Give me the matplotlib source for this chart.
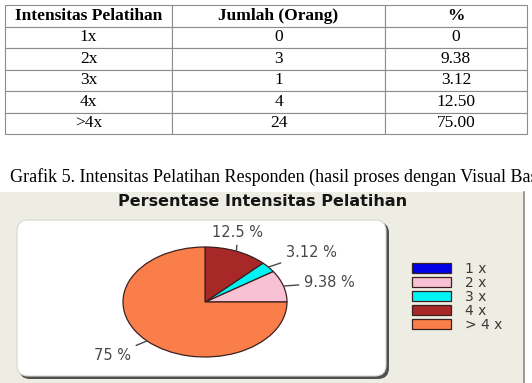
import numpy as np
import matplotlib
matplotlib.use("Agg")
from matplotlib import pyplot as plt
from matplotlib.patches import Rectangle, FancyBboxPatch

# table data
col_labels = ["Intensitas Pelatihan", "Jumlah (Orang)", "%"]
kategori = ["1x", "2x", "3x", "4x", ">4x"]
jumlah = [0, 3, 1, 4, 24]
persen = ["0", "9.38", "3.12", "12.50", "75.00"]

# pie chart data
legend_names = ["1 x", "2 x", "3 x", "4 x", "> 4 x"]
pie_labels = ["", "9.38 %", "3.12 %", "12.5 %", "75 %"]
colors = ["#0000e8", "#f9c2d4", "#00f4f4", "#a82828", "#fa7e4a"]
# label text positions (unit circle coords), layout only
label_pos = [None, (1.52, 0.35), (1.30, 0.90), (0.40, 1.27), (-1.13, -0.97)]

W, H = 532, 383
fig = plt.figure(figsize=(W / 100, H / 100), dpi=100)
fig.patch.set_facecolor("white")

# background overlay in pixel coords
bg = fig.add_axes([0, 0, 1, 1])
bg.set_xlim(0, W)
bg.set_ylim(H, 0)
bg.axis("off")

bg.text(10, 177, "Grafik 5. Intensitas Pelatihan Responden (hasil proses dengan Visual Basic)",
        family="Liberation Serif", fontsize=13, va="center", ha="left", color="black")

# chart panel
bg.add_patch(Rectangle((0, 192), 524, H - 192, facecolor="#eeede3", edgecolor="none"))
bg.plot([524, 524], [192, H], color="#8a8a80", lw=1.2)
bg.add_patch(FancyBboxPatch((19, 222), 370, 157, boxstyle="round,pad=0,rounding_size=11",
                            facecolor="#505050", edgecolor="none"))
bg.add_patch(FancyBboxPatch((17, 220), 369, 156, boxstyle="round,pad=0,rounding_size=11",
                            facecolor="white", edgecolor="#d8d8d0", lw=0.8))
bg.text(263, 202, "Persentase Intensitas Pelatihan", family="DejaVu Sans", fontweight="bold",
        fontsize=11.5, ha="center", va="center", color="#151515")

# table
tax = fig.add_axes([5 / W, 249 / H, 522 / W, 129 / H])
tax.axis("off")
cells = [[k, str(j), p] for k, j, p in zip(kategori, jumlah, persen)]
tbl = tax.table(cellText=cells, colLabels=col_labels, cellLoc="center",
                colWidths=[167, 213, 142], bbox=[0, 0, 1, 1])
tbl.auto_set_font_size(False)
for (r, c), cell in tbl.get_celld().items():
    cell.set_edgecolor("#8c8c8c")
    cell.set_linewidth(0.8)
    cell.get_text().set_fontfamily("Liberation Serif")
    cell.get_text().set_fontsize(12.5)
    if r == 0:
        cell.get_text().set_fontweight("bold")

# pie
cx, cy, rx, ry = 205, H - 302, 82, 55
ax = fig.add_axes([(cx - 1.5 * rx) / W, (cy - 1.35 * ry) / H, 3 * rx / W, 2.7 * ry / H])
wedges, _ = ax.pie(jumlah, colors=colors, startangle=0, counterclock=True,
                   wedgeprops=dict(edgecolor="#3c2020", linewidth=0.9))
ax.set_aspect("auto")
ax.set_xlim(-1.5, 1.5)
ax.set_ylim(-1.35, 1.35)

for w, lab, pos in zip(wedges, pie_labels, label_pos):
    if not lab:
        continue
    mid = np.deg2rad((w.theta1 + w.theta2) / 2)
    ax.annotate(lab, xy=(np.cos(mid), np.sin(mid)), xytext=pos, ha="center", va="center",
                fontsize=10.5, family="DejaVu Sans", color="#484848",
                arrowprops=dict(arrowstyle="-", color="#484848", lw=1.0, shrinkB=0))

leg = ax.legend(wedges, legend_names, loc="center left", bbox_to_anchor=(412 / W, 86 / H),
                bbox_transform=fig.transFigure, frameon=False, fontsize=10,
                handlelength=2.8, handleheight=0.72, handletextpad=1.0,
                labelspacing=0.0, borderpad=0, borderaxespad=0, labelcolor="#3a3a3a")

fig.savefig("out.png", dpi=100)
